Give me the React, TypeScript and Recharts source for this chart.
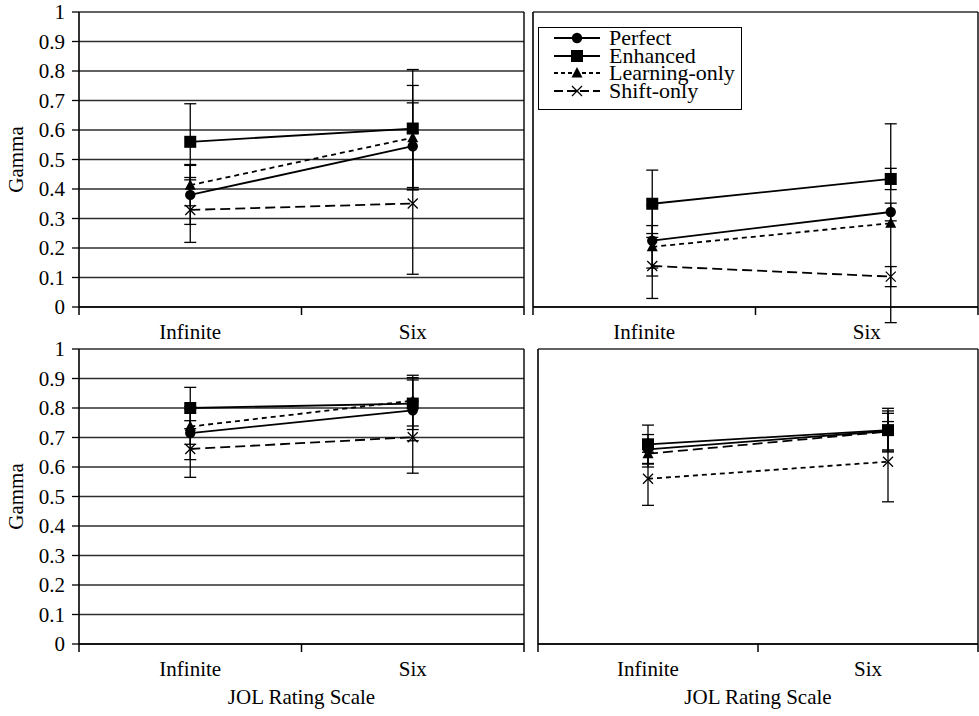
import { CartesianGrid, ErrorBar, Legend, Line, LineChart, XAxis, YAxis } from 'recharts'

const FONT = 'Liberation Serif, serif'

const CATEGORIES = ['Infinite', 'Six']
const Y_TICKS = [0, 0.1, 0.2, 0.3, 0.4, 0.5, 0.6, 0.7, 0.8, 0.9, 1]

// one pair per panel: top-left, top-right, bottom-left, bottom-right
const PERFECT = [[0.38, 0.545], [0.225, 0.322], [0.715, 0.792], [0.66, 0.722]]
const PERFECT_ERR = [[0.1, 0.147], [0.12, 0.03], [0.09, 0.103], [0.05, 0.068]]
const ENHANCED = [[0.56, 0.605], [0.35, 0.434], [0.8, 0.815], [0.677, 0.725]]
const ENHANCED_ERR = [[0.129, 0.2], [0.114, 0.036], [0.07, 0.088], [0.065, 0.074]]
const LEARNING = [[0.413, 0.574], [0.204, 0.284], [0.737, 0.825], [0.645, 0.72]]
const LEARNING_ERR = [[0.07, 0.177], [0.072, 0.337], [0.06, 0.086], [0.045, 0.062]]
const SHIFT = [[0.329, 0.351], [0.139, 0.103], [0.661, 0.701], [0.56, 0.618]]
const SHIFT_ERR = [[0.11, 0.24], [0.11, 0.034], [0.096, 0.122], [0.09, 0.136]]

const SHORT_DASH = '5 4'
const LONG_DASH = '10 5'
const PLOT_H = 295
const TOP = 12
const FS = 21

const PANELS = [
  { left: 0, top: 0, w: 530, h: 345, yw: 79, right: 5, pad: { left: 0, right: 0 }, yLabels: true, yTickLines: true, title: false, legend: false, swap: false },
  { left: 530, top: 0, w: 449, h: 345, yw: 3, right: 0, pad: { left: 0, right: -32 }, yLabels: false, yTickLines: false, title: false, legend: true, swap: false },
  { left: 0, top: 337, w: 530, h: 379, yw: 79, right: 5, pad: { left: 0, right: 0 }, yLabels: true, yTickLines: true, title: true, legend: false, swap: false },
  { left: 530, top: 337, w: 449, h: 379, yw: 8, right: 0, pad: { left: -10, right: -30 }, yLabels: false, yTickLines: true, title: true, legend: false, swap: true },
]

function rows(p: number) {
  return CATEGORIES.map((name, i) => ({
    name,
    perfect: PERFECT[p][i], perfectErr: PERFECT_ERR[p][i],
    enhanced: ENHANCED[p][i], enhancedErr: ENHANCED_ERR[p][i],
    learning: LEARNING[p][i], learningErr: LEARNING_ERR[p][i],
    shift: SHIFT[p][i], shiftErr: SHIFT_ERR[p][i],
  }))
}

const circleDot = (p: any) => <circle key={`c${p.index}`} cx={p.cx} cy={p.cy} r={5.2} fill="#000" />
const squareDot = (p: any) => <rect key={`s${p.index}`} x={p.cx - 6} y={p.cy - 6} width={12} height={12} fill="#000" />
const triDot = (p: any) => (
  <path key={`t${p.index}`} d={`M${p.cx},${p.cy - 6}L${p.cx + 5.5},${p.cy + 4.5}L${p.cx - 5.5},${p.cy + 4.5}Z`} fill="#000" />
)
const crossDot = (p: any) => (
  <path key={`x${p.index}`} d={`M${p.cx - 5},${p.cy - 5}L${p.cx + 5},${p.cy + 5}M${p.cx + 5},${p.cy - 5}L${p.cx - 5},${p.cy + 5}`}
    stroke="#000" strokeWidth={1.3} fill="none" />
)

// category labels sit at the centres of the unpadded bands, tick marks at band edges
function XTick({ payload, index, plotL, plotR, axisY }: any) {
  const edges = [plotL, (plotL + plotR) / 2, plotR]
  const cx = plotL + ((2 * index + 1) * (plotR - plotL)) / 4
  return (
    <g>
      {index === 0 && edges.map((ex: number) => (
        <line key={ex} x1={ex} x2={ex} y1={axisY} y2={axisY + 8} stroke="#000" strokeWidth={1.5} />
      ))}
      <text x={cx} y={axisY + 32} textAnchor="middle" fontFamily={FONT} fontSize={FS} fill="#000">{payload.value}</text>
    </g>
  )
}

const LEGEND_ITEMS = [
  { label: 'Perfect', dash: undefined, dot: 'circle' },
  { label: 'Enhanced', dash: undefined, dot: 'square' },
  { label: 'Learning-only', dash: '4 3', dot: 'tri' },
  { label: 'Shift-only', dash: '9 4', dot: 'cross' },
]

function LegendBox() {
  return (
    <div style={{ width: 204, boxSizing: 'border-box', border: '1px solid #000', background: '#fff',
      padding: '1px 2px 9px 15px', fontFamily: FONT, fontSize: 22, lineHeight: '17.7px', color: '#000' }}>
      {LEGEND_ITEMS.map(it => (
        <div key={it.label} style={{ display: 'flex', alignItems: 'center', height: 17.7, whiteSpace: 'nowrap' }}>
          <svg width={46} height={14} style={{ flex: 'none' }}>
            <line x1={0} x2={46} y1={7} y2={7} stroke="#000" strokeWidth={1.8} strokeDasharray={it.dash} />
            {it.dot === 'circle' && <circle cx={23} cy={7} r={5.2} fill="#000" />}
            {it.dot === 'square' && <rect x={17} y={1} width={12} height={12} fill="#000" />}
            {it.dot === 'tri' && <path d="M23,1L28.5,11.5L17.5,11.5Z" fill="#000" />}
            {it.dot === 'cross' && <path d="M18,2L28,12M28,2L18,12" stroke="#000" strokeWidth={1.3} />}
          </svg>
          <span style={{ marginLeft: 9 }}>{it.label}</span>
        </div>
      ))}
    </div>
  )
}

function Panel({ idx }: { idx: number }) {
  const cfg = PANELS[idx]
  const xh = cfg.h - TOP - PLOT_H
  const plotL = cfg.yw
  const plotR = cfg.w - cfg.right - 1
  const axisY = TOP + PLOT_H
  const learnDash = cfg.swap ? LONG_DASH : SHORT_DASH
  const shiftDash = cfg.swap ? SHORT_DASH : LONG_DASH
  const errProps = { width: 6, stroke: '#000', strokeWidth: 1.3, direction: 'y' as const, isAnimationActive: false }
  return (
    <div style={{ position: 'absolute', left: cfg.left, top: cfg.top }}>
      <LineChart width={cfg.w} height={cfg.h} data={rows(idx)} margin={{ top: TOP, right: cfg.right, bottom: 0, left: 0 }}>
        <CartesianGrid vertical={false} stroke="#2e2e2e" strokeWidth={1.3} />
        <XAxis dataKey="name" scale="band" height={xh} interval={0} padding={cfg.pad} tickLine={false}
          axisLine={{ stroke: '#000', strokeWidth: 1.6 }}
          tick={(p: any) => <XTick {...p} plotL={plotL} plotR={plotR} axisY={axisY} />}
          label={cfg.title ? { value: 'JOL Rating Scale', position: 'insideBottom', offset: 12, fontFamily: FONT, fontSize: FS, fill: '#000' } : undefined} />
        <YAxis width={cfg.yw} domain={[0, 1]} allowDataOverflow ticks={Y_TICKS} interval={0}
          tick={cfg.yLabels ? { fontFamily: FONT, fontSize: FS, fill: '#000' } : false}
          tickLine={cfg.yTickLines ? { stroke: '#000', strokeWidth: 1.3 } : false}
          tickSize={cfg.yLabels ? 7 : 8} tickMargin={7} tickFormatter={(v: number) => String(v)}
          axisLine={{ stroke: '#000', strokeWidth: 1.6 }}
          label={cfg.yLabels ? { value: 'Gamma', angle: -90, position: 'insideLeft', offset: 16, fontFamily: FONT, fontSize: FS, fill: '#000', style: { textAnchor: 'middle' } } : undefined} />
        <YAxis yAxisId="r" orientation="right" width={1} domain={[0, 1]} tick={false} tickLine={false}
          axisLine={{ stroke: '#000', strokeWidth: 1.4 }} />
        <Line type="linear" dataKey="shift" stroke="#000" strokeWidth={1.8} strokeDasharray={shiftDash}
          dot={crossDot} activeDot={false} isAnimationActive={false}>
          <ErrorBar dataKey="shiftErr" {...errProps} />
        </Line>
        <Line type="linear" dataKey="learning" stroke="#000" strokeWidth={1.8} strokeDasharray={learnDash}
          dot={triDot} activeDot={false} isAnimationActive={false}>
          <ErrorBar dataKey="learningErr" {...errProps} />
        </Line>
        <Line type="linear" dataKey="perfect" stroke="#000" strokeWidth={1.8}
          dot={circleDot} activeDot={false} isAnimationActive={false}>
          <ErrorBar dataKey="perfectErr" {...errProps} />
        </Line>
        <Line type="linear" dataKey="enhanced" stroke="#000" strokeWidth={1.8}
          dot={squareDot} activeDot={false} isAnimationActive={false}>
          <ErrorBar dataKey="enhancedErr" {...errProps} />
        </Line>
        {cfg.legend && (
          <Legend verticalAlign="middle" layout="horizontal" content={() => <LegendBox />}
            wrapperStyle={{ left: 8, top: 27, width: 204 }} />
        )}
      </LineChart>
    </div>
  )
}

export default function App() {
  return (
    <div style={{ position: 'absolute', left: 0, top: 0, width: 979, height: 716, background: '#fff', overflow: 'hidden' }}>
      {PANELS.map((_, i) => <Panel key={i} idx={i} />)}
    </div>
  )
}
